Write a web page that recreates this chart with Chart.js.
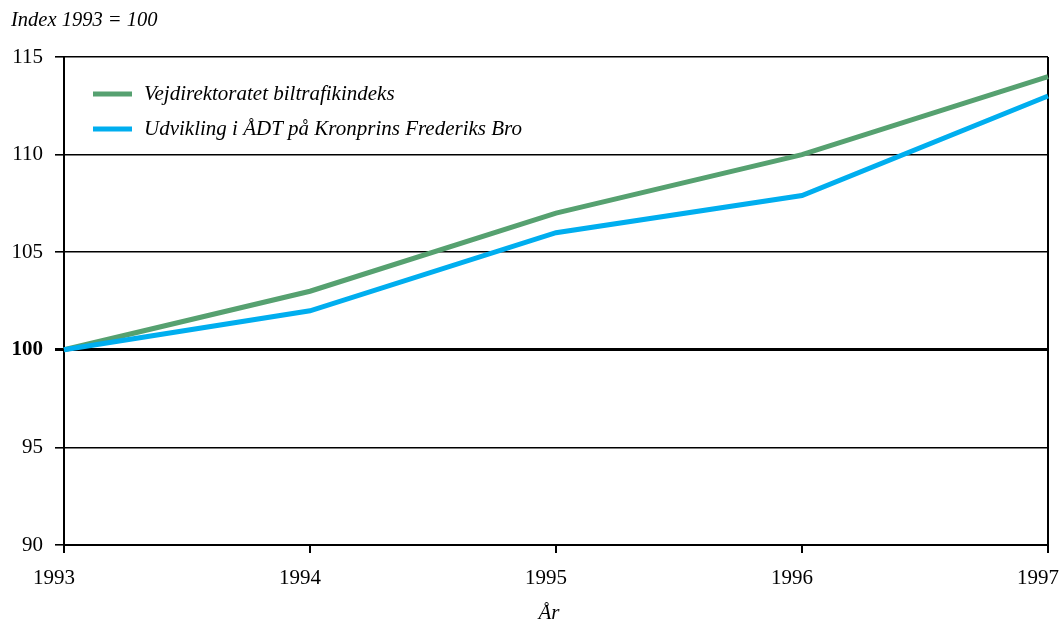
<!DOCTYPE html>
<html lang="da">
<head>
<meta charset="utf-8">
<title>Trafikindeks 1993–1997</title>
<script src="https://cdn.jsdelivr.net/npm/chart.js@4/dist/chart.umd.min.js"></script>
<style>
  html, body { margin: 0; padding: 0; background: #fff; }
  #wrap { width: 1059px; height: 623px; position: relative; }
</style>
</head>
<body>
<div id="wrap"><canvas id="c" width="1059" height="623"></canvas></div>
<script>
// Years on the x axis
const years = ['1993', '1994', '1995', '1996', '1997'];
// Vejdirektoratets biltrafikindeks (1993 = 100)
const vejdirektoratet = [100, 103, 107, 110, 114];
// Udvikling i ÅDT på Kronprins Frederiks Bro (1993 = 100)
const kronprinsBro = [100, 102, 106, 107.9, 113];
// Y axis range and step
const yMin = 90, yMax = 115, yStep = 5;
const yTitle = 'Index 1993 = 100';
const xTitle = 'År';
const seriesNames = ['Vejdirektoratet biltrafikindeks', 'Udvikling i ÅDT på Kronprins Frederiks Bro'];

const SERIF = '"Liberation Serif", "Times New Roman", serif';
const GREEN = 'rgb(86,161,112)';
const BLUE = 'rgb(0,174,239)';

// Axis titles and the in-plot legend
const annotations = {
  id: 'annotations',
  afterDraw(chart) {
    const ctx = chart.ctx;
    const area = chart.chartArea;
    ctx.save();
    ctx.fillStyle = '#000';
    ctx.font = 'italic 20.5px ' + SERIF;
    ctx.textBaseline = 'middle';
    ctx.textAlign = 'left';
    ctx.fillText(yTitle, 11, 21);

    ctx.font = 'italic 21px ' + SERIF;
    ctx.textAlign = 'center';
    ctx.fillText(xTitle, (area.left + area.right) / 2 - 7, 613);

    // legend
    ctx.font = 'italic 21px ' + SERIF;
    ctx.textAlign = 'left';
    chart.data.datasets.forEach((ds, i) => {
      const y = area.top + 37 + i * 35;
      ctx.strokeStyle = ds.borderColor;
      ctx.lineWidth = 5;
      ctx.lineCap = 'butt';
      ctx.beginPath();
      ctx.moveTo(area.left + 29, y);
      ctx.lineTo(area.left + 68, y);
      ctx.stroke();
      ctx.fillText(ds.label, area.left + 80, y);
    });
    ctx.restore();
  }
};

new Chart(document.getElementById('c'), {
  type: 'line',
  data: {
    labels: years,
    datasets: [
      {
        label: seriesNames[0],
        data: vejdirektoratet,
        borderColor: GREEN,
        backgroundColor: GREEN,
        borderWidth: 5,
        pointRadius: 0,
        tension: 0,
        order: 1
      },
      {
        label: seriesNames[1],
        data: kronprinsBro,
        borderColor: BLUE,
        backgroundColor: BLUE,
        borderWidth: 5,
        pointRadius: 0,
        tension: 0,
        order: 0
      }
    ]
  },
  options: {
    responsive: false,
    animation: false,
    devicePixelRatio: 1,
    layout: { padding: { top: 57, right: 11, bottom: 0, left: 0 } },
    plugins: {
      legend: { display: false },
      tooltip: { enabled: false },
      title: { display: false }
    },
    scales: {
      x: {
        type: 'category',
        offset: false,
        border: { display: true, color: '#000', width: 2 },
        grid: {
          drawOnChartArea: true,
          drawTicks: true,
          tickLength: 8,
          lineWidth: 2,
          color: (c) => (c.index === years.length - 1 ? '#000' : 'rgba(0,0,0,0)'),
          tickColor: '#000'
        },
        ticks: {
          color: '#000',
          font: { family: SERIF, size: 21 },
          padding: 13,
          labelOffset: -10,
          maxRotation: 0,
          autoSkip: false
        },
        afterFit(scale) {
          scale.height = 78;
          scale.paddingLeft = 0;
          scale.paddingRight = 0;
        }
      },
      y: {
        min: yMin,
        max: yMax,
        border: { display: true, color: '#000', width: 2 },
        grid: {
          drawTicks: true,
          tickLength: 9,
          color: '#000',
          lineWidth: (c) => (c.tick && c.tick.value === 100 ? 3 : 1.6)
        },
        ticks: {
          stepSize: yStep,
          color: '#000',
          padding: 12,
          font: (c) => ({
            family: SERIF,
            size: 21,
            weight: c.tick && c.tick.value === 100 ? 'bold' : 'normal'
          })
        },
        afterFit(scale) {
          scale.width = 64;
          scale.paddingTop = 0;
          scale.paddingBottom = 0;
        }
      }
    }
  },
  plugins: [annotations]
});
</script>
</body>
</html>
